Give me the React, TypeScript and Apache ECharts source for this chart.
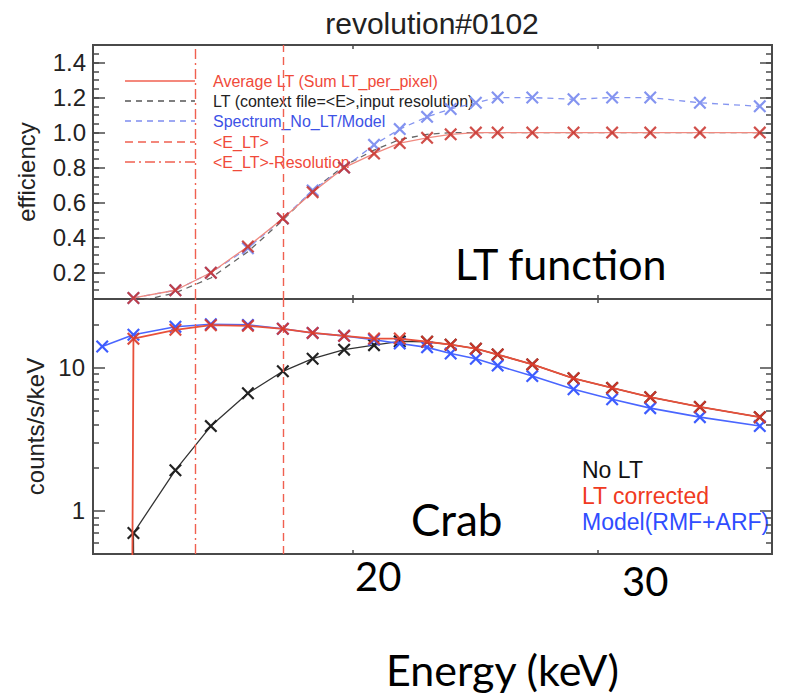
import React, { useEffect, useRef } from "react";
import * as echarts from "echarts";

// Energy bin centres (keV)
const energies = [13.2, 13.9, 14.9, 15.8, 16.8, 17.8, 18.7, 19.7, 20.7, 21.6, 22.6, 23.5, 24.5, 25.4, 26.9, 28.8, 30.7, 32.7, 35.5, 39.2];

// Upper panel: efficiency curves
const avgLT = [null, 0.056, 0.1, 0.2, 0.35, 0.51, 0.66, 0.8, 0.88, 0.94, 0.97, 0.99, 1.0, 1.0, 1.0, 1.0, 1.0, 1.0, 1.0, 1.0];
const ltContext = [null, 0.03, 0.085, 0.17, 0.32, 0.5, 0.67, 0.81, 0.9, 0.96, 0.99, 1.0, 1.0, 1.0, 1.0, 1.0, 1.0, 1.0, 1.0, 1.0];
const noLtOverModel = [null, 0.056, 0.1, 0.2, 0.34, 0.51, 0.67, 0.8, 0.93, 1.02, 1.09, 1.135, 1.17, 1.2, 1.2, 1.19, 1.2, 1.2, 1.17, 1.15];

// Lower panel: Crab count spectra (counts/s/keV)
const noLT = [null, 0.7, 1.92, 3.9, 6.6, 9.4, 11.5, 13.3, 14.3, 15.2, 15.1, 14.4, 13.5, 12.3, 10.5, 8.4, 7.2, 6.2, 5.3, 4.5];
const ltCorrected = [null, 15.85, 18.3, 19.7, 19.5, 18.6, 17.4, 16.6, 15.9, 15.9, 15.1, 14.4, 13.5, 12.3, 10.5, 8.4, 7.2, 6.2, 5.3, 4.5];
const model = [14.0, 16.9, 19.2, 20.0, 19.8, 18.6, 17.4, 16.6, 15.6, 14.7, 13.8, 12.5, 11.5, 10.3, 8.7, 7.05, 6.0, 5.2, 4.5, 3.9];

// Below-threshold points where the spectra drop off the log scale
const ltCorrectedCut = [13.85, 0.01];
const noLTCut = [13.93, 0.01];

// Low-threshold energies (keV)
const E_LT = 17.8;
const E_LT_MINUS_RES = 15.4;

// Axis ticks
const xTickValues = [20, 30];
const xTickLabels = ["20", "30"];
const effMajor = [0.2, 0.4, 0.6, 0.8, 1.0, 1.2, 1.4];
const effMinor = [0.05, 0.1, 0.15, 0.2, 0.25, 0.3, 0.35, 0.4, 0.45, 0.5, 0.55, 0.6, 0.65, 0.7, 0.75, 0.8, 0.85, 0.9, 0.95, 1.0, 1.05, 1.1, 1.15, 1.2, 1.25, 1.3, 1.35, 1.4, 1.45, 1.5];
const rateMajor = [1, 10];
const rateMinor = [0.5, 0.6, 0.7, 0.8, 0.9, 2, 3, 4, 5, 6, 7, 8, 9, 20, 30];

const X_PATH = "path://M0,1.2L1.2,0L5,3.8L8.8,0L10,1.2L6.2,5L10,8.8L8.8,10L5,6.2L1.2,10L0,8.8L3.8,5Z";

const HELV = "'Liberation Sans', Arial, sans-serif";
const SLIDE = "Lato, 'Open Sans', sans-serif";
const FRAME = "#4a4a4a";
const VLINE = "#f06050";

function pairs(values: (number | null)[]) {
  const out: number[][] = [];
  energies.forEach((e, i) => {
    const v = values[i];
    if (v != null) out.push([e, v]);
  });
  return out;
}

const tickStyle = (len: number, values: number[]) => ({
  show: true,
  inside: true,
  length: len,
  customValues: values,
  lineStyle: { color: FRAME, width: 1.5 },
});

function yAx(grid: number, type: string, min: number, max: number, pos: string, major: boolean, ticks: number[], extra: any = {}) {
  return {
    gridIndex: grid,
    type,
    min,
    max,
    position: pos,
    axisLine: { show: false },
    splitLine: { show: false },
    axisTick: tickStyle(major ? 12 : 6, ticks),
    axisLabel: { show: false },
    ...extra,
  };
}

function xAx(grid: number, pos: string, extra: any = {}) {
  return {
    gridIndex: grid,
    type: "log",
    min: 13,
    max: 40,
    position: pos,
    axisLine: { show: false },
    splitLine: { show: false },
    axisTick: tickStyle(4, xTickValues),
    axisLabel: { show: false },
    ...extra,
  };
}

const vMarks = {
  silent: true,
  symbol: "none",
  label: { show: false },
  data: [
    { xAxis: E_LT, lineStyle: { color: VLINE, width: 1.4, type: [8, 5] } },
    { xAxis: E_LT_MINUS_RES, lineStyle: { color: VLINE, width: 1.4, type: [10, 4, 2, 4] } },
  ],
};

const legendRows = [
  { text: "Average LT (Sum LT_per_pixel)", color: "#f04a3a", stroke: "#f06050", dash: null as any },
  { text: "LT (context file=<E>,input resolution)", color: "#222", stroke: "#555", dash: [6, 5] },
  { text: "Spectrum_No_LT/Model", color: "#3d52e6", stroke: "#7d8cf0", dash: [6, 5] },
  { text: "<E_LT>", color: "#f04a3a", stroke: "#f06050", dash: [8, 5] },
  { text: "<E_LT>-Resolution", color: "#f04a3a", stroke: "#f06050", dash: [10, 4, 2, 4] },
];
const legendY = [81, 101, 121, 142, 162];

const spectrumKey = [
  { text: "No LT", color: "#111" },
  { text: "LT corrected", color: "#f03a22" },
  { text: "Model(RMF+ARF)", color: "#2f4dff" },
];
const spectrumKeyY = [470, 496, 522];

export default function App() {
  const ref = useRef<HTMLDivElement>(null);

  useEffect(() => {
    if (!ref.current) return;
    const chart = echarts.init(ref.current, null, { renderer: "svg" });

    const graphic: any[] = [
      {
        type: "text",
        x: 432,
        y: 23,
        style: { text: "revolution#0102", font: `30px ${HELV}`, fill: "#222", textAlign: "center", textVerticalAlign: "middle" },
      },
      {
        type: "text",
        x: 455,
        y: 263,
        style: { text: "LT function", font: `43px ${SLIDE}`, fill: "#000", textAlign: "left", textVerticalAlign: "middle" },
      },
      {
        type: "text",
        x: 411,
        y: 519,
        style: { text: "Crab", font: `44px ${SLIDE}`, fill: "#000", textAlign: "left", textVerticalAlign: "middle" },
      },
      {
        type: "text",
        x: 386,
        y: 669,
        style: { text: "Energy (keV)", font: `43px ${SLIDE}`, fill: "#000", textAlign: "left", textVerticalAlign: "middle" },
      },
    ];

    legendRows.forEach((row, i) => {
      graphic.push({
        type: "line",
        shape: { x1: 125, y1: legendY[i], x2: 195, y2: legendY[i] },
        style: { stroke: row.stroke, lineWidth: 1.3, lineDash: row.dash || undefined },
      });
      graphic.push({
        type: "text",
        x: 213,
        y: legendY[i],
        style: { text: row.text, font: `16px ${HELV}`, fill: row.color, textAlign: "left", textVerticalAlign: "middle" },
      });
    });

    spectrumKey.forEach((row, i) => {
      graphic.push({
        type: "text",
        x: 582,
        y: spectrumKeyY[i],
        style: { text: row.text, font: `23px ${HELV}`, fill: row.color, textAlign: "left", textVerticalAlign: "middle" },
      });
    });

    const labelFont = { fontFamily: HELV, fontSize: 24, color: "#222" };

    const option: any = {
      animation: false,
      backgroundColor: "#fff",
      grid: [
        { left: 93, top: 45, width: 679, height: 254, show: true, borderColor: FRAME, borderWidth: 2, backgroundColor: "transparent" },
        { left: 93, top: 299, width: 679, height: 255, show: true, borderColor: FRAME, borderWidth: 2, backgroundColor: "transparent" },
      ],
      xAxis: [
        xAx(0, "bottom"),
        xAx(0, "top"),
        xAx(1, "bottom", {
          axisLabel: {
            show: true,
            customValues: xTickValues,
            margin: 2,
            formatter: (v: number) => {
              const i = xTickValues.indexOf(Math.round(v));
              return `{t${i}|${xTickLabels[i]}}`;
            },
            rich: {
              t0: { fontFamily: SLIDE, fontSize: 40, color: "#000", padding: [0, 0, 0, 50] },
              t1: { fontFamily: SLIDE, fontSize: 40, color: "#000", padding: [5, 0, 0, 94] },
            },
          },
        }),
        xAx(1, "top"),
      ],
      yAxis: [
        yAx(0, "value", 0.05, 1.5, "left", true, effMajor, {
          axisLabel: { show: true, customValues: effMajor, margin: 7, formatter: (v: number) => v.toFixed(1), ...labelFont },
          name: "efficiency",
          nameLocation: "middle",
          nameGap: 55,
          nameTextStyle: labelFont,
        }),
        yAx(0, "value", 0.05, 1.5, "left", false, effMinor),
        yAx(0, "value", 0.05, 1.5, "right", true, effMajor),
        yAx(0, "value", 0.05, 1.5, "right", false, effMinor),
        yAx(1, "log", 0.5, 30, "left", true, rateMajor, {
          axisLabel: { show: true, customValues: rateMajor, margin: 8, formatter: (v: number) => String(Math.round(v)), ...labelFont },
          name: "counts/s/keV",
          nameLocation: "middle",
          nameGap: 46,
          nameTextStyle: labelFont,
        }),
        yAx(1, "log", 0.5, 30, "left", false, rateMinor),
        yAx(1, "log", 0.5, 30, "right", true, rateMajor),
        yAx(1, "log", 0.5, 30, "right", false, rateMinor),
      ],
      graphic,
      series: [
        {
          name: "LT (context file=<E>,input resolution)",
          type: "line",
          xAxisIndex: 0,
          yAxisIndex: 0,
          data: pairs(ltContext),
          symbol: "none",
          silent: true,
          lineStyle: { color: "#666", width: 1.3, type: [6, 5] },
          z: 3,
        },
        {
          name: "Spectrum_No_LT/Model",
          type: "line",
          xAxisIndex: 0,
          yAxisIndex: 0,
          data: pairs(noLtOverModel),
          symbol: X_PATH,
          symbolSize: 13,
          silent: true,
          lineStyle: { color: "#8595f0", width: 1.3, type: [6, 5] },
          itemStyle: { color: "#8494f0" },
          z: 4,
        },
        {
          name: "Average LT (Sum LT_per_pixel)",
          type: "line",
          xAxisIndex: 0,
          yAxisIndex: 0,
          data: pairs(avgLT),
          symbol: X_PATH,
          symbolSize: 13,
          silent: true,
          lineStyle: { color: "#f08a80", width: 1.3 },
          itemStyle: { color: "#c8302a", opacity: 0.85 },
          markLine: vMarks,
          z: 5,
        },
        {
          name: "No LT",
          type: "line",
          xAxisIndex: 2,
          yAxisIndex: 4,
          data: [{ value: noLTCut, symbol: "none" }, ...pairs(noLT)],
          symbol: X_PATH,
          symbolSize: 13,
          silent: true,
          lineStyle: { color: "#333", width: 1.3 },
          itemStyle: { color: "#222" },
          z: 3,
        },
        {
          name: "Model(RMF+ARF)",
          type: "line",
          xAxisIndex: 2,
          yAxisIndex: 4,
          data: pairs(model),
          symbol: X_PATH,
          symbolSize: 13,
          silent: true,
          lineStyle: { color: "#4a66ff", width: 1.6 },
          itemStyle: { color: "#3d5cff" },
          z: 4,
        },
        {
          name: "LT corrected",
          type: "line",
          xAxisIndex: 2,
          yAxisIndex: 4,
          data: [{ value: ltCorrectedCut, symbol: "none" }, ...pairs(ltCorrected)],
          symbol: X_PATH,
          symbolSize: 13,
          silent: true,
          lineStyle: { color: "#e8503a", width: 1.8 },
          itemStyle: { color: "#d8382a", opacity: 0.9 },
          markLine: vMarks,
          z: 5,
        },
      ],
    };

    chart.setOption(option);
    return () => chart.dispose();
  }, []);

  return <div ref={ref} style={{ position: "fixed", left: 0, top: 0, width: 792, height: 696 }} />;
}
